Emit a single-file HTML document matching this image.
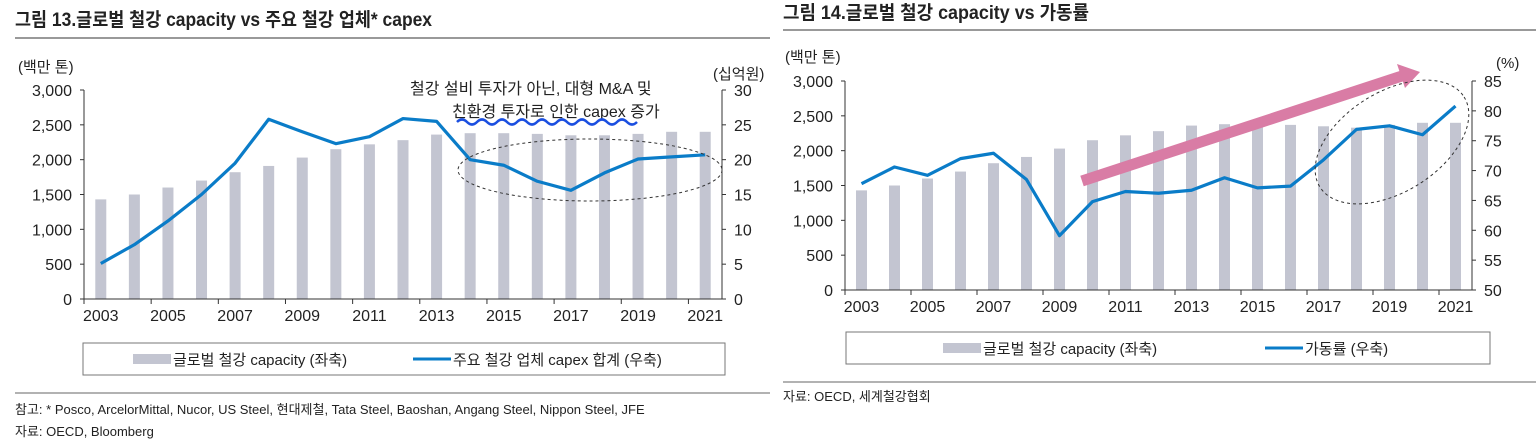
<!DOCTYPE html>
<html><head><meta charset="utf-8">
<style>
body{margin:0;width:1536px;height:440px;background:#fff;overflow:hidden;font-family:"Liberation Sans","Noto Sans CJK KR",sans-serif;color:#222;}
svg{position:absolute;left:0;top:0}
</style></head>
<body>
<svg id="c" width="1536" height="440" xmlns="http://www.w3.org/2000/svg" font-family="'Liberation Sans','Noto Sans CJK KR',sans-serif"></svg>
<script>
const years=['2003','2004','2005','2006','2007','2008','2009','2010','2011','2012','2013','2014','2015','2016','2017','2018','2019','2020','2021'];
const capacityL=[1430,1500,1600,1700,1820,1910,2030,2150,2220,2280,2360,2380,2380,2370,2350,2350,2370,2400,2400];
const capex=[5.1,7.8,11.2,15,19.5,25.8,24,22.3,23.3,25.9,25.5,20,19.2,16.9,15.6,18.1,20.1,20.4,20.7];
const capacityR=[1430,1500,1600,1700,1820,1910,2030,2150,2220,2280,2360,2380,2380,2370,2350,2330,2370,2400,2400];
const utilization=[67.8,70.6,69.2,72,72.9,68.5,59.1,64.8,66.5,66.2,66.7,68.8,67.1,67.4,71.8,76.9,77.5,76,80.8];
const leftTicks=['0','500','1,000','1,500','2,000','2,500','3,000'];
const capexTicks=['0','5','10','15','20','25','30'];
const utilTicks=['50','55','60','65','70','75','80','85'];

const svg=document.getElementById('c');
const NS='http://www.w3.org/2000/svg';
function el(tag,attrs,parent,text){const e=document.createElementNS(NS,tag);for(const k in attrs)e.setAttribute(k,attrs[k]);if(text!==undefined)e.textContent=text;(parent||svg).appendChild(e);return e;}

function chart(o){
  const g=el('g',{});
  
  
  const n=years.length, bw=(o.x1-o.x0)/n;
  const xc=i=>o.x0+bw*(i+0.5);
  const yL=v=>o.yb-(v/3000)*(o.yb-o.yt);
  const yR=v=>o.yb-((v-o.rmin)/(o.rmax-o.rmin))*(o.yb-o.yt);
  o.bars.forEach((v,i)=>{const r=el('rect',{x:xc(i)-5.5,y:yL(v),width:11,height:o.yb-yL(v),fill:'#c3c5d1'},g);
    });
  el('line',{x1:o.x0,y1:o.yt,x2:o.x0,y2:o.yb,stroke:'#333','stroke-width':1},g);
  el('line',{x1:o.x1,y1:o.yt,x2:o.x1,y2:o.yb,stroke:'#333','stroke-width':1},g);
  el('line',{x1:o.x0,y1:o.yb,x2:o.x1,y2:o.yb,stroke:'#333','stroke-width':1},g);
  leftTicks.forEach((t,i)=>{const y=yL(i*500);el('line',{x1:o.x0-4,y1:y,x2:o.x0,y2:y,stroke:'#333'},g);
    const tx=el('text',{x:o.x0-12,y:y+6,'text-anchor':'end','font-size':16,fill:'#222'},g,t);
    });
  o.rticks.forEach((t,i)=>{const y=yR(+t);el('line',{x1:o.x1,y1:y,x2:o.x1+4,y2:y,stroke:'#333'},g);
    const tx=el('text',{x:o.x1+12,y:y+6,'font-size':16,fill:'#222'},g,t);
    });
  for(let i=0;i<=n;i+=2){const x=o.x0+bw*i;el('line',{x1:x,y1:o.yb,x2:x,y2:o.yb+5,stroke:'#333'},g);}
  years.forEach((yv,i)=>{if(i%2)return;const tx=el('text',{x:xc(i),y:o.yb+22,'text-anchor':'middle','font-size':16,fill:'#222'},g,yv);
    });
  const p=el('polyline',{points:o.line.map((v,i)=>xc(i)+','+yR(v)).join(' '),fill:'none',stroke:'#0a7cc8','stroke-width':3.2,'stroke-linejoin':'round'},g);
  
  return {xc,yL,yR,g};
}

let t=el('text',{x:15,y:26,'font-size':19,'font-weight':'bold',fill:'#222',textLength:417,lengthAdjust:'spacingAndGlyphs'},svg,'그림 13.글로벌 철강 capacity vs 주요 철강 업체* capex');

el('line',{x1:15,y1:38,x2:770,y2:38,stroke:'#999','stroke-width':2});
t=el('text',{x:783,y:19,'font-size':19,'font-weight':'bold',fill:'#222',textLength:306,lengthAdjust:'spacingAndGlyphs'},svg,'그림 14.글로벌 철강 capacity vs 가동률');

el('line',{x1:783,y1:30,x2:1536,y2:30,stroke:'#999','stroke-width':2});

const A=chart({name:'chart13',x0:84,x1:722,yt:90,yb:299,rmin:0,rmax:30,rticks:capexTicks,bars:capacityL,line:capex,lineName:'capex-line'});
el('text',{x:18,y:72,'font-size':15,fill:'#222'},svg,'(백만 톤)');
el('text',{x:713,y:79,'font-size':15,fill:'#222'},svg,'(십억원)');
el('text',{x:410,y:94,'font-size':16,fill:'#222'},svg,'철강 설비 투자가 아닌, 대형 M&A 및');
el('text',{x:452,y:117,'font-size':16,fill:'#222'},svg,'친환경 투자로 인한 capex 증가');
el('path',{d:'M457 122 q5 -5 10 0 t10 0 t10 0 t10 0 t10 0 t10 0 t10 0 t10 0 t10 0 t10 0 t10 0 t10 0 t10 0 t10 0 t10 0 t10 0 t10 0 t10 0',fill:'none',stroke:'#1b4fe0','stroke-width':2.5});
el('ellipse',{cx:590,cy:170,rx:132,ry:31,fill:'none',stroke:'#333','stroke-dasharray':'3,3'});

const B=chart({name:'chart14',x0:845,x1:1472,yt:81,yb:290,rmin:50,rmax:85,rticks:utilTicks,bars:capacityR,line:utilization,lineName:'utilization-line'});
el('text',{x:785,y:62,'font-size':15,fill:'#222'},svg,'(백만 톤)');
el('text',{x:1496,y:68,'font-size':15,fill:'#222'},svg,'(%)');
el('line',{x1:1082,y1:181,x2:1402,y2:76,stroke:'#d97ca5','stroke-width':11});
el('polygon',{points:'1420,72 1397,64 1405,88',fill:'#d97ca5'});
el('ellipse',{cx:1392,cy:142,rx:85,ry:50,transform:'rotate(-32 1392 142)',fill:'none',stroke:'#333','stroke-dasharray':'3,3'});

function legend(x,y,w,h,name,items){
  const r=el('rect',{x:x,y:y,width:w,height:h,fill:'#fff',stroke:'#777','stroke-width':1});
  
  items.forEach(it=>{
    if(it.bar)el('rect',{x:it.x,y:y+h/2-5,width:38,height:10,fill:'#c3c5d1'});
    else el('line',{x1:it.x,y1:y+h/2,x2:it.x+38,y2:y+h/2,stroke:'#0a7cc8','stroke-width':3});
    const tx=el('text',{x:it.x+40,y:y+h/2+6,'font-size':15,fill:'#222'},svg,it.t);
    
  });
}
legend(83,343,642,32,'chart13-legend',[{bar:1,x:133,t:'글로벌 철강 capacity (좌축)'},{x:413,t:'주요 철강 업체 capex 합계 (우축)'}]);
legend(846,332,644,32,'chart14-legend',[{bar:1,x:943,t:'글로벌 철강 capacity (좌축)'},{x:1265,t:'가동률 (우축)'}]);

el('line',{x1:15,y1:393,x2:770,y2:393,stroke:'#999','stroke-width':1.5});
el('line',{x1:783,y1:382,x2:1536,y2:382,stroke:'#999','stroke-width':1.5});
el('text',{x:15,y:414,'font-size':13,fill:'#222'},svg,'참고: * Posco, ArcelorMittal, Nucor, US Steel, 현대제철, Tata Steel, Baoshan, Angang Steel, Nippon Steel, JFE');
el('text',{x:15,y:436,'font-size':13,fill:'#222'},svg,'자료: OECD, Bloomberg');
el('text',{x:783,y:401,'font-size':13,fill:'#222'},svg,'자료: OECD, 세계철강협회');
</script>
</body></html>
